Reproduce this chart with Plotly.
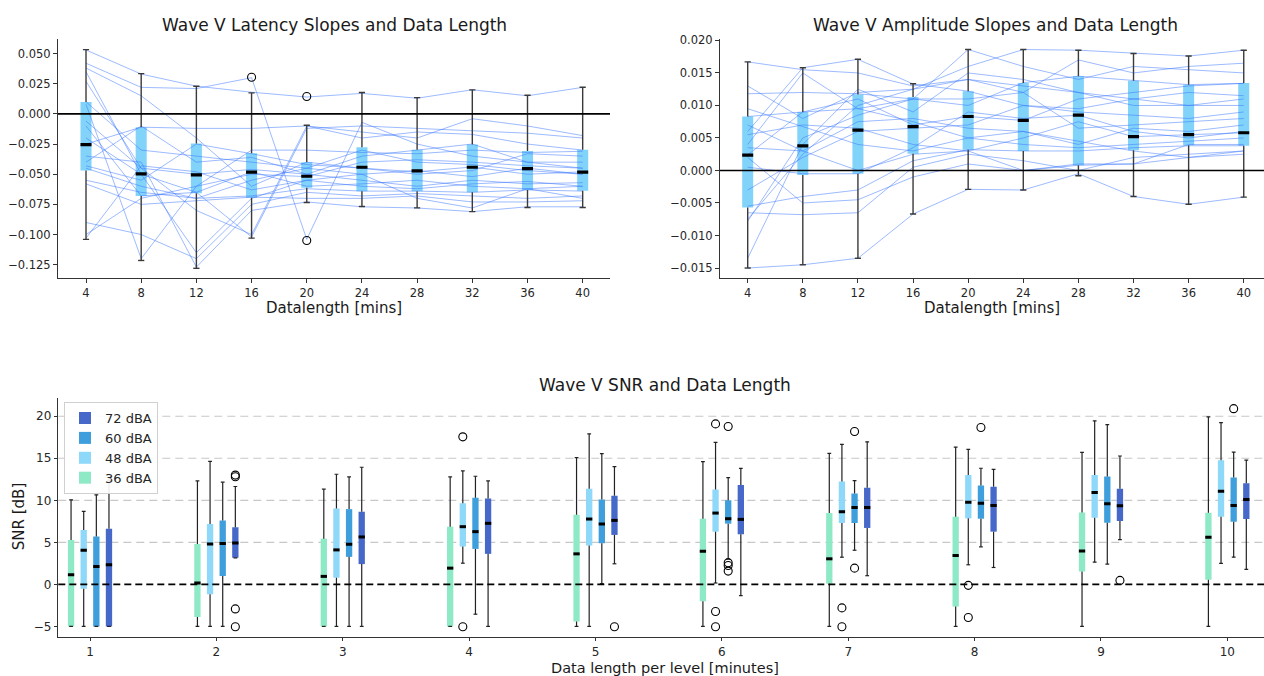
import plotly.graph_objects as go

# ---------------- data ----------------
lengths = [4, 8, 12, 16, 20, 24, 28, 32, 36, 40]

# Wave V latency slopes: box statistics per data length
lat_q1 = [-0.047, -0.068, -0.0657, -0.0696, -0.0613, -0.0641, -0.0641, -0.0649, -0.063, -0.0638]
lat_med = [-0.0254, -0.0497, -0.0506, -0.0483, -0.0517, -0.0442, -0.0472, -0.0442, -0.0453, -0.0483]
lat_q3 = [0.0099, -0.011, -0.0246, -0.0326, -0.040, -0.0276, -0.0298, -0.0254, -0.0307, -0.0298]
lat_lo = [-0.104, -0.1215, -0.128, -0.103, -0.0735, -0.0768, -0.0779, -0.081, -0.0776, -0.0776]
lat_hi = [0.0533, 0.0334, 0.0229, 0.0174, -0.0094, 0.0177, 0.0135, 0.0199, 0.0155, 0.0221]
lat_out_x = [16, 20, 20]
lat_out_y = [0.0304, 0.0144, -0.105]
lat_yticks = [-0.125, -0.100, -0.075, -0.050, -0.025, 0.000, 0.025, 0.050]

# individual subject latency slopes
lat_subjects = [
    [0.053, 0.033, 0.023, 0.018, 0.014, 0.017, 0.013, 0.020, 0.015, 0.022],
    [0.042, 0.022, 0.021, 0.030, -0.104, -0.007, -0.025, -0.035, -0.040, -0.045],
    [0.038, 0.015, -0.020, -0.060, -0.040, -0.045, -0.048, -0.044, -0.050, -0.048],
    [0.035, -0.050, -0.115, -0.070, -0.055, -0.050, -0.047, -0.052, -0.045, -0.050],
    [0.027, -0.045, -0.080, -0.100, -0.010, -0.015, -0.020, -0.004, -0.010, -0.018],
    [0.010, -0.030, -0.035, -0.040, -0.045, -0.030, -0.040, -0.042, -0.047, -0.050],
    [0.008, -0.120, -0.060, -0.050, -0.052, -0.040, -0.038, -0.040, -0.043, -0.045],
    [-0.006, -0.045, -0.050, -0.046, -0.050, -0.055, -0.060, -0.055, -0.058, -0.057],
    [-0.010, -0.068, -0.065, -0.048, -0.060, -0.058, -0.055, -0.060, -0.062, -0.060],
    [-0.025, -0.011, -0.012, -0.012, -0.010, -0.020, -0.015, -0.017, -0.025, -0.030],
    [-0.035, -0.040, -0.127, -0.080, -0.073, -0.077, -0.078, -0.081, -0.077, -0.077],
    [-0.043, -0.055, -0.025, -0.033, -0.042, -0.045, -0.050, -0.047, -0.033, -0.035],
    [-0.045, -0.060, -0.070, -0.068, -0.062, -0.064, -0.064, -0.065, -0.063, -0.064],
    [-0.055, -0.065, -0.070, -0.055, -0.045, -0.050, -0.070, -0.078, -0.062, -0.070],
    [-0.058, -0.075, -0.072, -0.069, -0.070, -0.070, -0.068, -0.073, -0.073, -0.072],
    [-0.090, -0.100, -0.120, -0.075, -0.065, -0.068, -0.066, -0.068, -0.070, -0.068],
    [-0.100, -0.070, -0.060, -0.030, -0.030, -0.032, -0.033, -0.030, -0.032, -0.031],
    [-0.103, -0.043, -0.048, -0.063, -0.055, -0.060, -0.062, -0.058, -0.056, -0.060],
    [-0.040, -0.010, -0.040, -0.036, -0.050, -0.035, -0.030, -0.025, -0.040, -0.040],
    [-0.020, -0.050, -0.065, -0.102, -0.012, -0.010, -0.012, -0.014, -0.016, -0.020],
]

# Wave V amplitude slopes: box statistics per data length
amp_q1 = [-0.0057, -0.0007, -0.0005, 0.00256, 0.0032, 0.0030, 0.0008, 0.0031, 0.0039, 0.0038]
amp_med = [0.00235, 0.0038, 0.0062, 0.00675, 0.0083, 0.0077, 0.0085, 0.0052, 0.0055, 0.0058]
amp_q3 = [0.0083, 0.0090, 0.0117, 0.0113, 0.0122, 0.01345, 0.0145, 0.0138, 0.0132, 0.01345]
amp_lo = [-0.0150, -0.0145, -0.0135, -0.0067, -0.0029, -0.0030, -0.0008, -0.0040, -0.0052, -0.0041]
amp_hi = [0.0167, 0.0158, 0.0171, 0.01335, 0.0186, 0.0186, 0.0185, 0.0180, 0.0176, 0.0185]
amp_yticks = [-0.015, -0.010, -0.005, 0.000, 0.005, 0.010, 0.015, 0.020]

amp_subjects = [
    [0.0167, 0.0155, 0.0150, 0.0130, 0.0140, 0.0130, 0.0120, 0.0110, 0.0100, 0.0110],
    [0.0130, 0.0080, 0.0120, 0.0125, 0.0160, 0.0186, 0.0185, 0.0180, 0.0176, 0.0185],
    [0.0118, 0.0120, 0.0118, 0.0110, 0.0100, 0.0135, 0.0145, 0.0138, 0.0132, 0.0134],
    [0.0095, 0.0068, 0.0040, 0.0030, 0.0050, 0.0040, 0.0035, 0.0040, 0.0045, 0.0050],
    [0.0083, 0.0090, 0.0095, 0.0110, 0.0186, 0.0160, 0.0140, 0.0160, 0.0155, 0.0150],
    [0.0060, 0.0158, 0.0171, 0.0133, 0.0122, 0.0100, 0.0090, 0.0085, 0.0080, 0.0090],
    [0.0055, 0.0070, 0.0065, 0.0040, 0.0030, 0.0050, 0.0075, 0.0052, 0.0055, 0.0058],
    [0.0035, 0.0030, 0.0000, 0.0025, 0.0030, 0.0000, 0.0008, 0.0010, 0.0040, 0.0040],
    [0.0024, 0.0090, 0.0110, 0.0070, 0.0083, 0.0077, 0.0110, 0.0120, 0.0130, 0.0134],
    [0.0005, -0.0005, -0.0005, 0.0035, 0.0090, 0.0080, 0.0085, 0.0060, 0.0050, 0.0060],
    [-0.0030, 0.0020, 0.0060, 0.0065, 0.0070, 0.0100, 0.0095, 0.0110, 0.0120, 0.0115],
    [-0.0055, -0.0040, -0.0030, 0.0015, 0.0032, 0.0030, 0.0030, 0.0035, 0.0038, 0.0038],
    [-0.0065, -0.0068, -0.0065, 0.0005, 0.0025, 0.0015, 0.0000, 0.0020, 0.0025, 0.0030],
    [-0.0078, 0.0050, 0.0085, 0.0110, 0.0110, 0.0120, 0.0170, 0.0150, 0.0160, 0.0165],
    [-0.0135, 0.0040, 0.0125, 0.0090, 0.0150, 0.0140, 0.0120, 0.0100, 0.0100, 0.0100],
    [-0.0150, -0.0145, -0.0135, -0.0067, -0.0029, -0.0030, -0.0005, -0.0040, -0.0052, -0.0041],
    [0.0040, 0.0150, 0.0095, 0.0075, 0.0050, 0.0060, 0.0045, 0.0030, 0.0020, 0.0030],
    [-0.0075, 0.0025, 0.0100, 0.0125, 0.0140, 0.0120, 0.0065, 0.0070, 0.0075, 0.0080],
    [0.0020, -0.0050, -0.0045, -0.0010, 0.0010, 0.0000, 0.0010, 0.0010, 0.0020, 0.0025],
    [0.0070, 0.0030, 0.0075, 0.0080, 0.0065, 0.0060, 0.0040, 0.0065, 0.0060, 0.0070],
]

# Wave V SNR per data length (minutes) and level
snr_minutes = [1, 2, 3, 4, 5, 6, 7, 8, 9, 10]
snr_levels = ["36 dBA", "48 dBA", "60 dBA", "72 dBA"]
snr_q1 = [
    [-5, -3.87, -5, -5, -4.42, -2.01, 0.08, -2.64, 1.54, 0.55],
    [-0.51, -1.18, 0.79, 4.5, 4.62, 6.27, 7.3, 7.85, 7.93, 8.05],
    [-5, 0.99, 3.27, 4.22, 4.89, 7.22, 7.3, 7.81, 7.34, 7.46],
    [-5, 3.16, 2.41, 3.63, 5.88, 5.96, 6.71, 6.27, 7.53, 7.77],
]
snr_med = [
    [1.14, 0.16, 0.95, 1.93, 3.63, 3.94, 3.04, 3.43, 3.98, 5.6],
    [4.06, 4.81, 4.1, 6.86, 7.77, 8.48, 8.64, 9.78, 10.93, 11.08],
    [2.13, 4.85, 4.77, 6.27, 7.18, 7.81, 9.15, 9.66, 9.59, 9.39],
    [2.33, 4.93, 5.64, 7.26, 7.61, 7.73, 9.15, 9.39, 9.35, 10.1],
]
snr_q3 = [
    [5.29, 4.81, 5.44, 6.86, 8.28, 7.81, 8.48, 8.05, 8.56, 8.52],
    [6.47, 7.18, 9.03, 9.66, 11.36, 11.28, 12.23, 13.02, 13.02, 14.75],
    [5.68, 7.61, 8.95, 10.3, 10.1, 10.02, 10.81, 11.76, 12.82, 12.7],
    [6.63, 6.79, 8.64, 10.22, 10.53, 11.83, 11.48, 11.6, 11.36, 12.03],
]
snr_lo = [
    [-5, -5, -5, -5, -5, -5, -5, -5, -5, -5],
    [-5, -5, -5, 2.52, -5, 0.16, 3.23, 2.33, 2.64, 2.49],
    [-5, -5, -5, -3.55, 0.08, 3.04, 4.06, 4.46, 2.41, 3.23],
    [-5, 3.16, -5, -5, 2.45, -1.34, 1.03, 2.01, 5.33, 1.78],
]
snr_hi = [
    [10.06, 12.3, 11.32, 12.78, 15.07, 14.6, 15.58, 16.33, 15.7, 19.92],
    [8.68, 14.64, 13.1, 13.49, 17.9, 16.88, 16.65, 16.06, 19.45, 19.25],
    [10.65, 12.15, 12.78, 12.86, 15.54, 12.7, 12.35, 13.81, 19.0, 15.74],
    [12.4, 11.64, 13.93, 12.3, 14.0, 13.8, 16.96, 13.69, 15.27, 14.79],
]
snr_out_minute = [2, 2, 2, 2, 4, 4, 5, 6, 6, 6, 6, 6, 6, 6, 7, 7, 7, 7, 8, 8, 8, 9, 10]
snr_out_level = [3, 3, 3, 3, 1, 1, 3, 1, 1, 1, 2, 2, 2, 2, 1, 1, 2, 2, 1, 1, 2, 3, 2]
snr_out_y = [13.0, 12.8, -2.92, -5.05, 17.55, -5.05, -5.05, 19.09, -3.23, -5.05,
             18.78, 2.56, 2.25, 1.58, -2.8, -5.05, 18.19, 1.93, -0.12, -3.94, 18.66, 0.47, 20.9]
snr_yticks = [-5, 0, 5, 10, 15, 20]
snr_grid = [5, 10, 15, 20]

# ---------------- styling ----------------
W, H = 1264, 676
FONT = "DejaVu Sans"
TOP_BOX = "#82d3fa"
LEVEL_COLORS = ["#8eeac6", "#8ed8f9", "#3f9fdc", "#4668c9"]
LEVEL_OFFSETS = [-0.15, -0.05, 0.05, 0.15]
SUBJ_COLOR = "rgba(60,120,255,0.5)"


def px(p):
    return p / W


def py(p):
    return 1 - p / H


def box_parts(xs, q1, med, q3, lo, hi, width, capw, fill, xa, ya, wcol, ww, mw,
              name=None, legend=False, rank=None):
    bar = go.Bar(x=xs, y=[b - a for a, b in zip(q1, q3)], base=q1, width=width,
                 marker=dict(color=fill, line=dict(width=0)), xaxis=xa, yaxis=ya,
                 name=name, showlegend=legend, legendrank=rank if rank else 1000,
                 hoverinfo="skip")
    wx, wy, cx, cy, mx, my = [], [], [], [], [], []
    for x, a, m, b, l, h in zip(xs, q1, med, q3, lo, hi):
        wx += [x, x, None, x, x, None]
        wy += [b, h, None, a, l, None]
        cx += [x - capw / 2, x + capw / 2, None, x - capw / 2, x + capw / 2, None]
        cy += [h, h, None, l, l, None]
        mx += [x - width / 2, x + width / 2, None]
        my += [m, m, None]
    whisk = go.Scatter(x=wx, y=wy, mode="lines", line=dict(color=wcol, width=ww),
                       xaxis=xa, yaxis=ya, showlegend=False, hoverinfo="skip")
    caps = go.Scatter(x=cx, y=cy, mode="lines", line=dict(color=wcol, width=ww),
                      xaxis=xa, yaxis=ya, showlegend=False, hoverinfo="skip")
    meds = go.Scatter(x=mx, y=my, mode="lines", line=dict(color="black", width=mw),
                      xaxis=xa, yaxis=ya, showlegend=False, hoverinfo="skip")
    return bar, [whisk, caps], meds


fig = go.Figure()

# --- top-left: latency ---
bar, wh, md = box_parts(lengths, lat_q1, lat_med, lat_q3, lat_lo, lat_hi, 0.8, 0.45,
                        TOP_BOX, "x", "y", "#3a3a3a", 1.4, 3.2)
fig.add_trace(bar)
for s in lat_subjects:
    fig.add_trace(go.Scatter(x=lengths, y=s, mode="lines", line=dict(color=SUBJ_COLOR, width=1),
                             xaxis="x", yaxis="y", showlegend=False, hoverinfo="skip"))
for t in wh:
    fig.add_trace(t)
fig.add_trace(md)
fig.add_trace(go.Scatter(x=lat_out_x, y=lat_out_y, mode="markers",
                         marker=dict(symbol="circle-open", size=8, color="black", line=dict(width=1.1)),
                         xaxis="x", yaxis="y", showlegend=False, hoverinfo="skip"))

# --- top-right: amplitude ---
bar, wh, md = box_parts(lengths, amp_q1, amp_med, amp_q3, amp_lo, amp_hi, 0.8, 0.45,
                        TOP_BOX, "x2", "y2", "#3a3a3a", 1.4, 3.2)
fig.add_trace(bar)
for s in amp_subjects:
    fig.add_trace(go.Scatter(x=lengths, y=s, mode="lines", line=dict(color=SUBJ_COLOR, width=1),
                             xaxis="x2", yaxis="y2", showlegend=False, hoverinfo="skip"))
for t in wh:
    fig.add_trace(t)
fig.add_trace(md)

# --- bottom: SNR ---
meds_bottom = []
for i, lev in enumerate(snr_levels):
    xs = [m + LEVEL_OFFSETS[i] for m in snr_minutes]
    bar, wh, md = box_parts(xs, snr_q1[i], snr_med[i], snr_q3[i], snr_lo[i], snr_hi[i],
                            0.05, 0.03, LEVEL_COLORS[i], "x3", "y3", "#222222", 1.2, 3,
                            name=lev, legend=True, rank=4 - i)
    fig.add_trace(bar)
    for t in wh:
        fig.add_trace(t)
    meds_bottom.append(md)
for md in meds_bottom:
    fig.add_trace(md)
fig.add_trace(go.Scatter(
    x=[m + LEVEL_OFFSETS[l] for m, l in zip(snr_out_minute, snr_out_level)], y=snr_out_y,
    mode="markers", marker=dict(symbol="circle-open", size=8, color="black", line=dict(width=1.1)),
    xaxis="x3", yaxis="y3", showlegend=False, hoverinfo="skip"))

# reference lines
fig.add_shape(type="line", xref="x domain", x0=0, x1=1, yref="y", y0=0, y1=0,
              line=dict(color="black", width=1.6), layer="above")
fig.add_shape(type="line", xref="x2 domain", x0=0, x1=1, yref="y2", y0=0, y1=0,
              line=dict(color="black", width=1.6), layer="above")
fig.add_shape(type="line", xref="x3 domain", x0=0, x1=1, yref="y3", y0=0, y1=0,
              line=dict(color="black", width=1.6, dash="7px,4px"), layer="above")
for g in snr_grid:
    fig.add_shape(type="line", xref="x3 domain", x0=0, x1=1, yref="y3", y0=g, y1=g,
                  line=dict(color="#c8c8c8", width=1.2, dash="8px,5px"), layer="below")


def fmt(v):
    s = f"{abs(v):.3f}"
    return ("\u2212" + s) if v < 0 else s


axis_common = dict(showline=True, linecolor="#333333", linewidth=1, ticks="outside", ticklen=4,
                   tickcolor="#333333", tickwidth=1, showgrid=False, zeroline=False,
                   tickfont=dict(family=FONT, size=11.5, color="#262626"))
axis_bottom = {**axis_common, "ticklen": 3.5, "tickfont": dict(family=FONT, size=12, color="#262626")}

fig.update_layout(
    width=W, height=H, margin=dict(l=0, r=0, t=0, b=0),
    paper_bgcolor="white", plot_bgcolor="white", barmode="overlay",
    font=dict(family=FONT, color="#262626"),
    xaxis=dict(domain=[px(58), px(610)], range=[1.97, 41.98], tickvals=lengths, anchor="y", **axis_common),
    yaxis=dict(domain=[py(275), py(34)], range=[-0.136, 0.0623], tickvals=lat_yticks,
               ticktext=[fmt(v) for v in lat_yticks], anchor="x", **axis_common),
    xaxis2=dict(domain=[px(720), 1.0], range=[1.99, 41.47], tickvals=lengths, anchor="y2", **axis_common),
    yaxis2=dict(domain=[py(275), py(34)], range=[-0.01653, 0.02026], tickvals=amp_yticks,
                ticktext=[fmt(v) for v in amp_yticks], anchor="x2", **axis_common),
    xaxis3=dict(domain=[px(58.3), 1.0], range=[0.749, 10.29], tickvals=snr_minutes, anchor="y3",
                **axis_bottom),
    yaxis3=dict(domain=[py(636.7), py(396)], range=[-6.26, 22.16], tickvals=snr_yticks,
                ticktext=[("\u2212" + str(abs(v))) if v < 0 else str(v) for v in snr_yticks],
                anchor="x3", **axis_bottom),
    showlegend=True,
    legend=dict(x=px(64), y=py(400), xanchor="left", yanchor="top", bgcolor="rgba(255,255,255,0.9)",
                bordercolor="#d0d0d0", borderwidth=1, font=dict(family=FONT, size=13, color="#262626"),
                tracegroupgap=0),
)

ann = [
    ("Wave V Latency Slopes and Data Length", px(334), py(20), 17, 0),
    ("Wave V Amplitude Slopes and Data Length", px(995), py(20), 17, 0),
    ("Wave V SNR and Data Length", px(664.5), py(383), 17, 0),
    ("Datalength [mins]", px(334), py(305), 15, 0),
    ("Datalength [mins]", px(992), py(305), 15, 0),
    ("Data length per level [minutes]", px(664.5), py(667.5), 14.5, 0),
    ("SNR [dB]", px(19), py(516), 15, -90),
]
for text, x, y, size, ang in ann:
    fig.add_annotation(text=text, x=x, y=y, xref="paper", yref="paper", showarrow=False,
                       xanchor="center", yanchor="middle", textangle=ang,
                       font=dict(family=FONT, size=size, color="#1a1a1a"))

fig.write_html("out.html", config={"displayModeBar": False, "responsive": False},
               post_script="document.body.style.margin='0';document.body.style.overflow='hidden';")
